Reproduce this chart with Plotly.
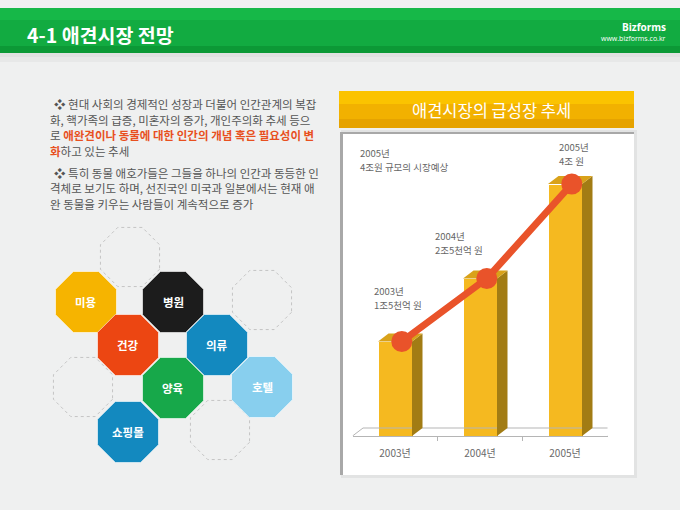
import math
import plotly.graph_objects as go

W, H = 680, 510
FONT = "Noto Sans CJK KR"

# ---- chart data ----
years = ["2003년", "2004년", "2005년"]
market = [1.5, 2.5, 4.0]  # 조 원
value_notes = [("2003년", "1조5천억 원"), ("2004년", "2조5천억 원"), ("2005년", "4조 원")]
forecast_note = ("2005년", "4조원 규모의 시장예상")

# ---- honeycomb data ----
cells = ["미용", "병원", "건강", "의류", "양육", "호텔", "쇼핑몰"]
cell_colors = ["#f6b400", "#1c1c1c", "#ec4612", "#1389bf", "#17a84a", "#88cfee", "#1389bf"]

bullet_lines = [
    "❖ 현대 사회의 경제적인 성장과 더불어 인간관계의 복잡",
    "화, 핵가족의 급증, 미혼자의 증가, 개인주의화 추세 등으",
    "로 <b><span style='color:#e8501f'>애완견이나 동물에 대한 인간의 개념 혹은 필요성이 변</span></b>",
    "<b><span style='color:#e8501f'>화</span></b>하고 있는 추세",
    "❖ 특히 동물 애호가들은 그들을 하나의 인간과 동등한 인",
    "격체로 보기도 하며, 선진국인 미국과 일본에서는 현재 애",
    "완 동물을 키우는 사람들이 계속적으로 증가",
]


###### PIXEL HELPERS ######
def X(x):
    return x / W


def Y(y):
    return 1 - y / H


def rect(x0, y0, x1, y1, color, layer="below"):
    return dict(type="rect", xref="paper", yref="paper", x0=X(x0), x1=X(x1), y0=Y(y1), y1=Y(y0),
                fillcolor=color, line_width=0, layer=layer)


def octagon(cx, cy, r=33):
    pts = []
    for k in range(8):
        a = math.radians(22.5 + 45 * k)
        pts.append((X(cx + r * math.cos(a)), Y(cy + r * math.sin(a))))
    return "M " + " L ".join(f"{px:.5f},{py:.5f}" for px, py in pts) + " Z"


# ---- axis geometry (px) ----
base_px, unit_px, step_px = 436, 63, 85
left_px = 395 - step_px / 2
dx = 10.5 / step_px      # bar depth in x units
dy = 8 / unit_px         # bar depth in value units
half = 0.2

fig = go.Figure()

# floor
n = len(years)
fig.add_trace(go.Scatter(
    x=[-0.5, -0.5 + dx, n - 0.5 + dx, n - 0.5],
    y=[0, dy, dy, 0],
    mode="lines", line=dict(color="#b5b5b5", width=1),
    hoverinfo="skip", showlegend=False, cliponaxis=False))

# front faces
fig.add_trace(go.Bar(x=list(range(n)), y=market, width=2 * half,
                     marker=dict(color="#f5b920", line_width=0),
                     hoverinfo="skip", showlegend=False))

# side and top faces
for i, v in enumerate(market):
    fig.add_trace(go.Scatter(
        x=[i + half, i + half + dx, i + half + dx, i + half, i + half],
        y=[0, dy, v + dy, v, 0],
        fill="toself", fillcolor="#a27c14", mode="lines", line=dict(width=0, color="#a27c14"),
        hoverinfo="skip", showlegend=False, cliponaxis=False))
    fig.add_trace(go.Scatter(
        x=[i - half, i - half + dx, i + half + dx, i + half, i - half],
        y=[v, v + dy, v + dy, v, v],
        fill="toself", fillcolor="#d9a21a", mode="lines", line=dict(width=0, color="#d9a21a"),
        hoverinfo="skip", showlegend=False, cliponaxis=False))

# growth line
fig.add_trace(go.Scatter(
    x=[i + 0.08 for i in range(n)], y=market,
    mode="lines+markers",
    line=dict(color="#e9532a", width=7),
    marker=dict(color="#e9532a", size=21),
    hoverinfo="skip", showlegend=False, cliponaxis=False))

shapes = [
    # header banner
    rect(0, 57, W, 62, "rgba(0,0,0,0.03)"),
    rect(0, 53, W, 57, "rgba(0,0,0,0.06)"),
    rect(0, 8, W, 53, "#12ab41"),
    rect(0, 8, W, 20, "#16b848"),
    rect(0, 46, W, 53, "#0c9936"),
    # chart panel
    rect(341, 130, 637, 478, "rgba(0,0,0,0.05)"),
    rect(340, 132, 634, 475, "#a8a8a8"),
    rect(343, 134, 634, 475, "#ffffff"),
    # chart title bar
    rect(339, 91, 634, 128, "#f2b100"),
    rect(339, 91, 634, 104, "#fbc300"),
    rect(339, 119, 634, 128, "#e6a300"),
]

# honeycomb
empty_cells = [(130, 257), (262, 300), (83, 387), (220, 430)]
cell_centers = [(86, 302), (173, 302), (128, 345), (217, 345), (173, 388), (262, 387), (128, 432)]
for cx, cy in empty_cells:
    shapes.append(dict(type="path", xref="paper", yref="paper", path=octagon(cx, cy, 32),
                       line=dict(color="#c4c4c4", width=1, dash="dot"), fillcolor="rgba(0,0,0,0)",
                       layer="below"))
for (cx, cy), col in zip(cell_centers, cell_colors):
    shapes.append(dict(type="path", xref="paper", yref="paper", path=octagon(cx, cy, 33),
                       line=dict(color="rgba(255,255,255,0.6)", width=1), fillcolor=col, layer="below"))

annotations = [
    dict(x=X(25), y=Y(35), text="<b>4-1 애견시장 전망</b>", xanchor="left", yanchor="middle",
         font=dict(family=FONT, size=19.5, color="white")),
    dict(x=X(668), y=Y(27), text="<b>Bizforms</b>", xanchor="right", yanchor="middle",
         font=dict(family="Open Sans", size=10, color="white")),
    dict(x=X(668), y=Y(39), text="www.bizforms.co.kr", xanchor="right", yanchor="middle",
         font=dict(family="Open Sans", size=7, color="white")),
    dict(x=X(491), y=Y(110), text="애견시장의 급성장 추세", xanchor="center", yanchor="middle",
         font=dict(family=FONT, size=16.5, color="white")),
]

line_y = [104, 120, 135, 151, 173, 188, 204]
for txt, ly in zip(bullet_lines, line_y):
    x0 = 52 if txt.startswith("❖") else 48
    annotations.append(dict(x=X(x0), y=Y(ly), text=txt, xanchor="left", yanchor="middle",
                            font=dict(family=FONT, size=11.5, color="#555555")))

note_font = dict(family=FONT, size=9.5, color="#666666")
note_pos = [(372, 291), (433, 236), (557, 147)]
for (top, bottom), (nx, ny) in zip(value_notes, note_pos):
    annotations.append(dict(x=X(nx), y=Y(ny), text=top, xanchor="left", yanchor="middle", font=note_font))
    annotations.append(dict(x=X(nx), y=Y(ny + 14), text=bottom, xanchor="left", yanchor="middle", font=note_font))
annotations.append(dict(x=X(358), y=Y(153), text=forecast_note[0], xanchor="left", yanchor="middle", font=note_font))
annotations.append(dict(x=X(358), y=Y(167), text=forecast_note[1], xanchor="left", yanchor="middle", font=note_font))

for name, (cx, cy) in zip(cells, cell_centers):
    annotations.append(dict(x=X(cx), y=Y(cy), text=f"<b>{name}</b>", xanchor="center", yanchor="middle",
                            font=dict(family=FONT, size=11.5, color="white")))

for a in annotations:
    a.update(xref="paper", yref="paper", showarrow=False)

fig.update_layout(
    width=W, height=H, autosize=False,
    margin=dict(l=0, r=0, t=0, b=0),
    paper_bgcolor="#eff0f0", plot_bgcolor="rgba(0,0,0,0)",
    shapes=shapes, annotations=annotations,
    xaxis=dict(domain=[X(left_px), X(left_px + n * step_px)], range=[-0.5, n - 0.5],
               tickvals=list(range(n)), ticktext=years, ticks="", showgrid=False, zeroline=False,
               showline=True, linecolor="#b5b5b5", linewidth=1, ticklabelstandoff=8,
               tickfont=dict(family=FONT, size=10, color="#6a6a6a"),
               minor=dict(tickvals=[0.5, 1.5], ticks="outside", ticklen=4, tickcolor="#b5b5b5", showgrid=False),
               fixedrange=True),
    yaxis=dict(domain=[Y(base_px), Y(base_px - 4.5 * unit_px)], range=[0, 4.5], visible=False,
               fixedrange=True),
    bargap=0,
)

fig.write_html("out.html", config={"displayModeBar": False},
               post_script="document.body.style.margin='0';")
